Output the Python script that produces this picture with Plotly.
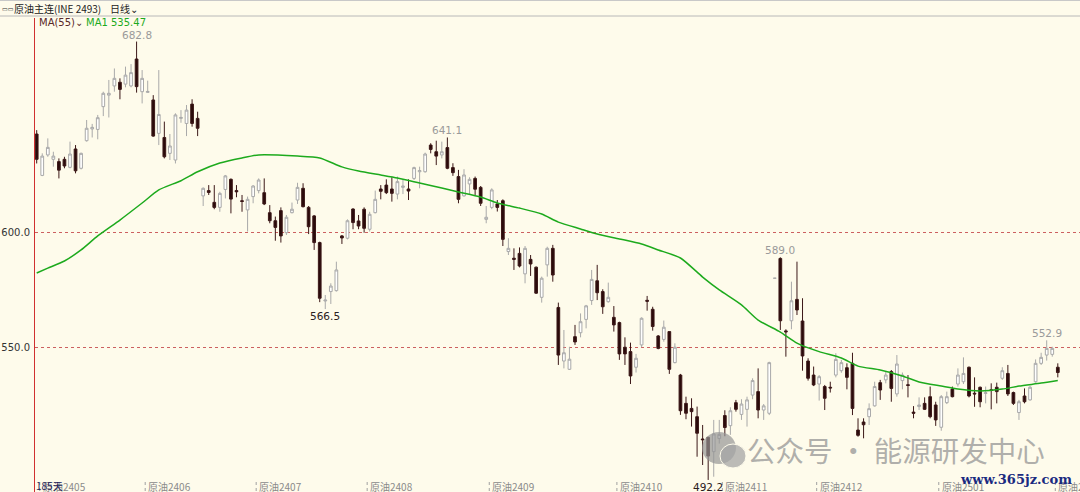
import plotly.graph_objects as go

# ---------------- data ----------------
opens = [642.6, 624.6, 633.5, 631.6, 630.6, 631.6, 628.1, 636.1, 627.7, 639.7,
         644.8, 644.6, 654.5, 659.5, 663.5, 665.1, 664.3, 663.5, 675.2, 661.0,
         660.7, 657.4, 642.9, 641.1, 634.2, 631.3, 649.4, 647.2, 655.6, 649.4,
         615.7, 618.0, 612.9, 610.7, 618.5, 622.9, 618.0, 613.6, 609.6, 615.4,
         618.0, 617.1, 608.4, 604.9, 609.3, 599.7, 608.4, 613.9, 619.0, 610.7,
         607.0, 595.4, 570.0, 574.1, 574.5, 598.3, 597.3, 610.0, 604.8, 609.9,
         601.2, 608.4, 618.7, 620.4, 618.7, 616.5, 619.4, 618.7, 623.3, 626.2,
         626.2, 637.8, 634.9, 633.5, 636.7, 628.0, 624.1, 615.7, 620.9, 623.3,
         619.4, 605.5, 610.7, 612.2, 613.6, 591.5, 588.6, 590.7, 581.8, 588.1,
         584.7, 571.6, 585.7, 592.9, 567.2, 543.9, 540.3, 554.5, 556.2, 562.0,
         570.2, 578.8, 574.1, 569.7, 562.9, 560.6, 549.9, 548.0, 541.2, 550.9,
         570.3, 566.4, 554.8, 553.3, 556.7, 543.2, 537.8, 525.5, 523.3, 519.7,
         510.0, 510.7, 504.5, 510.2, 520.2, 515.8, 525.8, 520.7, 522.9, 529.1,
         530.6, 522.6, 521.2, 579.9, 588.5, 557.0, 561.4, 570.7, 561.3, 543.9,
         537.8, 533.9, 532.8, 532.5, 537.8, 539.7, 541.0, 542.9, 513.9, 517.4,
         519.7, 524.4, 534.5, 535.7, 539.3, 529.6, 535.4, 533.6, 521.7, 524.1,
         525.5, 528.4, 524.8, 515.1, 525.8, 531.7, 533.9, 534.9, 541.2, 529.9,
         532.5, 529.8, 531.4, 532.5, 536.4, 538.5, 530.2, 521.5, 528.7, 527.0,
         534.9, 542.9, 546.5, 546.8, 541.2]
highs = [644.3, 634.2, 640.7, 634.9, 632.0, 632.7, 639.3, 637.8, 634.5, 648.7,
         647.0, 650.9, 661.0, 666.1, 671.1, 666.8, 671.9, 673.0, 682.8, 670.4,
         665.8, 659.5, 670.4, 648.0, 642.6, 651.6, 653.0, 655.2, 657.7, 652.3,
         619.4, 620.4, 620.4, 617.5, 624.8, 623.3, 620.4, 616.1, 615.4, 620.4,
         623.3, 623.3, 611.7, 606.7, 610.7, 607.4, 612.8, 621.4, 621.2, 611.3,
         607.4, 595.8, 572.6, 577.7, 587.1, 598.7, 605.5, 610.3, 607.4, 610.7,
         608.8, 618.0, 620.4, 622.9, 623.8, 624.1, 622.6, 622.9, 628.4, 628.4,
         634.5, 638.6, 639.7, 639.3, 641.1, 629.9, 627.0, 627.3, 623.8, 624.1,
         620.0, 611.3, 619.0, 613.9, 614.2, 597.3, 592.9, 593.3, 593.9, 590.0,
         585.0, 580.6, 593.6, 594.4, 569.3, 557.4, 550.1, 559.6, 564.6, 568.3,
         583.5, 585.7, 575.1, 578.0, 567.8, 561.0, 554.2, 551.9, 547.0, 562.9,
         572.2, 567.5, 555.2, 561.5, 556.7, 551.6, 538.3, 528.4, 527.7, 524.1,
         516.1, 511.0, 518.3, 518.3, 522.5, 523.8, 527.0, 527.3, 528.4, 536.4,
         540.7, 525.2, 543.6, 579.9, 589.0, 557.7, 578.4, 587.1, 571.2, 545.1,
         541.5, 537.8, 533.5, 534.9, 547.3, 544.4, 542.9, 547.5, 519.0, 519.0,
         525.5, 534.9, 535.7, 539.3, 540.0, 546.5, 538.9, 537.8, 524.3, 528.1,
         528.1, 532.8, 526.2, 529.1, 530.6, 532.8, 540.7, 545.5, 541.5, 536.8,
         532.8, 532.8, 534.2, 534.5, 541.2, 542.2, 530.6, 527.0, 532.0, 533.1,
         544.6, 547.5, 552.9, 550.1, 542.9]
lows = [629.8, 624.3, 632.7, 628.4, 623.3, 627.7, 627.7, 625.5, 627.2, 639.3,
        641.1, 640.3, 650.4, 649.8, 661.0, 657.7, 662.9, 662.9, 660.6, 655.9,
        660.6, 641.4, 637.8, 632.0, 631.3, 629.8, 647.5, 641.7, 645.8, 641.7,
        611.3, 616.1, 609.9, 608.8, 614.6, 608.1, 615.1, 608.8, 600.2, 612.5,
        616.8, 611.7, 603.8, 596.2, 595.4, 598.7, 608.1, 612.2, 610.7, 599.1,
        592.2, 569.5, 566.5, 568.7, 574.1, 594.8, 596.8, 601.2, 601.2, 599.7,
        600.2, 608.1, 614.2, 616.5, 613.2, 614.2, 616.5, 613.9, 622.6, 619.0,
        625.8, 634.2, 629.1, 632.0, 627.3, 624.4, 612.5, 615.4, 616.1, 616.1,
        611.3, 603.8, 609.9, 608.9, 593.9, 590.0, 583.5, 584.6, 577.7, 580.9,
        573.1, 569.3, 580.6, 578.4, 542.2, 540.7, 540.0, 550.9, 554.2, 558.1,
        568.3, 570.4, 564.4, 569.3, 556.7, 544.4, 542.2, 533.9, 538.9, 549.9,
        565.8, 557.1, 549.0, 552.3, 538.3, 542.9, 520.5, 518.6, 515.4, 502.3,
        498.7, 492.2, 493.6, 508.0, 511.2, 511.8, 521.9, 518.3, 515.4, 527.3,
        519.0, 518.3, 520.4, 579.9, 557.4, 545.8, 557.7, 563.9, 539.7, 535.4,
        533.0, 526.7, 522.6, 530.2, 536.8, 538.8, 531.6, 520.4, 511.0, 510.3,
        516.1, 524.1, 527.0, 534.2, 526.2, 528.4, 531.6, 528.1, 519.0, 522.6,
        522.6, 519.0, 515.7, 513.6, 525.2, 528.1, 532.8, 533.9, 528.1, 524.0,
        523.8, 525.5, 522.9, 525.5, 535.7, 528.7, 524.8, 518.3, 525.5, 526.7,
        534.5, 542.2, 544.1, 545.8, 536.8]
closes = [631.6, 633.0, 636.8, 633.0, 626.9, 628.7, 633.9, 626.6, 634.2, 645.1,
          645.5, 649.7, 660.3, 660.3, 666.8, 662.0, 668.2, 669.3, 663.2, 666.8,
          661.1, 641.7, 651.1, 632.7, 637.4, 650.9, 649.8, 653.0, 647.2, 645.1,
          619.0, 617.2, 610.7, 616.8, 624.4, 614.3, 617.5, 613.3, 614.2, 620.0,
          622.6, 612.2, 604.9, 602.0, 598.3, 606.4, 609.9, 619.4, 611.0, 602.3,
          595.4, 571.2, 570.4, 576.5, 583.5, 597.4, 604.9, 604.1, 602.6, 601.6,
          607.7, 614.2, 617.7, 617.1, 616.8, 621.9, 620.0, 617.8, 628.0, 626.7,
          633.9, 635.9, 633.0, 634.9, 627.7, 625.8, 614.2, 624.8, 622.9, 618.6,
          612.5, 606.4, 618.3, 610.7, 596.8, 592.9, 588.1, 585.2, 592.9, 586.1,
          573.4, 579.9, 592.9, 581.3, 546.5, 547.5, 544.7, 552.2, 561.0, 567.9,
          579.4, 573.6, 567.5, 571.6, 559.6, 547.0, 547.0, 537.4, 545.1, 562.5,
          569.9, 558.9, 549.4, 558.6, 540.3, 549.9, 522.3, 521.2, 521.9, 512.5,
          509.7, 502.6, 512.2, 512.0, 515.0, 522.3, 522.9, 525.2, 527.0, 535.4,
          522.6, 524.4, 543.2, 579.9, 561.4, 556.6, 570.1, 566.1, 546.1, 536.4,
          533.5, 537.1, 527.7, 532.2, 544.6, 543.2, 536.8, 523.3, 511.6, 516.2,
          523.2, 532.8, 531.3, 537.8, 532.0, 542.6, 537.8, 533.3, 521.2, 524.8,
          522.9, 519.7, 518.3, 528.4, 528.4, 528.4, 537.8, 538.5, 528.7, 529.6,
          526.2, 530.1, 531.1, 530.6, 539.7, 529.6, 525.5, 526.2, 526.2, 532.5,
          542.9, 545.5, 549.4, 549.4, 538.9]

# MA(55) line: (bar index, value)
ma_index = [0, 2, 5, 8, 11, 15, 19, 22, 26, 29, 33, 37, 40, 47, 51, 55, 58, 62,
            65, 69, 73, 76, 80, 83, 87, 91, 94, 98, 101, 105, 109, 112, 116,
            120, 123, 127, 130, 134, 137, 141, 145, 148, 152, 156, 159, 163,
            166, 170, 174, 177, 181, 184]
ma_value = [582.2, 584.3, 587.4, 592.2, 598.3, 605.2, 612.6, 618.3, 622.3, 626.2,
            630.0, 632.2, 633.5, 633.0, 632.2, 628.3, 626.5, 624.8, 623.5, 621.3,
            619.1, 617.4, 615.2, 612.6, 610.4, 607.8, 604.3, 601.3, 599.1, 597.0,
            594.8, 592.2, 588.7, 580.4, 574.8, 568.3, 561.7, 556.5, 551.7, 548.0,
            545.2, 541.7, 540.0, 537.4, 534.8, 533.0, 531.7, 530.9, 531.7, 533.0,
            534.3, 535.47]

y_ticks = [550, 600]
month_labels = ["原油2405", "原油2406", "原油2407", "原油2408", "原油2409",
                "原油2410", "原油2411", "原油2412", "原油2501", "原油2502"]
month_index = [1, 20, 40, 60, 82, 105, 124, 141, 163, 184]
high_label_index = [18, 74, 134, 182]
low_label_index = [52, 121]

n = len(opens)
xs = list(range(n))

BG = "#FEFBEB"
FONT = "Noto Sans CJK SC"
W, H, L, T = 1080, 492, 35, 18

def py(px):
    return (H - px) / (H - T)

def pxx(px):
    return (px - L) / (W - L)

fig = go.Figure()
fig.add_trace(go.Candlestick(
    x=xs, open=opens, high=highs, low=lows, close=closes,
    increasing=dict(fillcolor="#FFFFFF", line=dict(color="#A9A9A9", width=1)),
    decreasing=dict(fillcolor="#2A0A0A", line=dict(color="#3C1818", width=1)),
    whiskerwidth=0, showlegend=False, hoverinfo="skip"))
fig.add_trace(go.Scatter(
    x=ma_index, y=ma_value, mode="lines",
    line=dict(color="#1DAA1D", width=1.5, shape="spline", smoothing=0.6),
    showlegend=False, hoverinfo="skip"))

ann = []
for i in high_label_index:
    ann.append(dict(x=i, y=highs[i], xref="x", yref="y", text=f"{highs[i]:.1f}",
                    showarrow=False, yanchor="bottom", yshift=-1,
                    font=dict(family="DejaVu Sans", size=10.5, color="#9A9A9A")))
for i in low_label_index:
    ann.append(dict(x=i, y=lows[i], xref="x", yref="y", text=f"{lows[i]:.1f}",
                    showarrow=False, yanchor="top", yshift=1,
                    font=dict(family="DejaVu Sans", size=10.5, color="#2A2020")))

shapes = []
for lab, i in zip(month_labels, month_index):
    ann.append(dict(x=i - 0.3, y=py(486), xref="x", yref="paper", text=lab,
                    showarrow=False, xanchor="left", yanchor="middle",
                    font=dict(family=FONT, size=10, color="#8A8A8A")))
    shapes.append(dict(type="line", xref="x", yref="paper", x0=i - 0.45, x1=i - 0.45,
                       y0=py(491), y1=py(482), line=dict(color="#A0A0A0", width=1, dash="dot")))

ann.append(dict(x=pxx(34), y=py(485), xref="paper", yref="paper", text="185天",
                showarrow=False, xanchor="left", yanchor="middle",
                font=dict(family=FONT, size=10, color="#1C1C5A")))

# legend text
ann.append(dict(x=pxx(37), y=py(23), xref="paper", yref="paper", text="MA(55)⌄",
                showarrow=False, xanchor="left", yanchor="middle",
                font=dict(family="DejaVu Sans", size=10, color="#5A2828")))
ann.append(dict(x=pxx(84), y=py(23), xref="paper", yref="paper",
                text=f"MA1 {ma_value[-1]:.2f}",
                showarrow=False, xanchor="left", yanchor="middle",
                font=dict(family="DejaVu Sans", size=10, color="#1DAA1D")))

# header
ann.append(dict(x=pxx(12), y=py(8), xref="paper", yref="paper", text="原油主连(INE 2493)",
                showarrow=False, xanchor="left", yanchor="middle",
                font=dict(family=FONT, size=10, color="#222222")))
ann.append(dict(x=pxx(108), y=py(8), xref="paper", yref="paper", text="日线⌄",
                showarrow=False, xanchor="left", yanchor="middle",
                font=dict(family=FONT, size=10, color="#222222")))
ann.append(dict(x=pxx(0), y=py(8), xref="paper", yref="paper", text="▭▭",
                showarrow=False, xanchor="left", yanchor="middle",
                font=dict(family="DejaVu Sans", size=6, color="#333333")))

# watermark
ann.append(dict(x=pxx(745), y=py(449), xref="paper", yref="paper", text="公众号 · 能源研发中心",
                showarrow=False, xanchor="left", yanchor="middle",
                font=dict(family=FONT, size=28.5, color="rgba(150,150,150,0.75)")))
ann.append(dict(x=pxx(1074), y=py(479), xref="paper", yref="paper", text="<b>www.365jz.com</b>",
                showarrow=False, xanchor="right", yanchor="middle",
                font=dict(family="DejaVu Serif", size=13, color="#1A2A80")))

shapes += [
    dict(type="line", xref="paper", yref="paper", x0=pxx(0), x1=1,
         y0=py(16), y1=py(16), line=dict(color="#B8B8B8", width=1)),
    dict(type="line", xref="paper", yref="paper", x0=pxx(0), x1=1,
         y0=py(0.5), y1=py(0.5), line=dict(color="#C8C8C8", width=1)),
    dict(type="circle", xref="paper", yref="paper",
         x0=pxx(702), x1=pxx(736), y0=py(464), y1=py(432),
         fillcolor="rgba(150,150,150,0.7)", line=dict(width=0)),
    dict(type="circle", xref="paper", yref="paper",
         x0=pxx(720), x1=pxx(746), y0=py(468), y1=py(444),
         fillcolor="rgba(165,165,165,0.75)", line=dict(color=BG, width=1)),
]

fig.update_layout(
    width=W, height=H,
    margin=dict(l=L, r=0, t=T, b=0),
    paper_bgcolor=BG, plot_bgcolor=BG,
    xaxis=dict(range=[-0.306, 188.0], showgrid=False, zeroline=False,
               showticklabels=False, ticks="", rangeslider=dict(visible=False),
               showline=False),
    yaxis=dict(range=[486.96, 693.04], tickvals=y_ticks, tickformat=".1f",
               showgrid=True, gridcolor="#CC6060", griddash="dot", gridwidth=1,
               zeroline=False, showline=True, linecolor="#D03030", linewidth=1,
               ticks="", tickfont=dict(family="DejaVu Sans", size=10, color="#333333"),
               ticklabelstandoff=2),
    annotations=ann,
    shapes=shapes,
    showlegend=False,
)

fig.write_html("out.html", config={"displayModeBar": False},
               post_script="document.body.style.margin='0';document.body.style.overflow='hidden';")
